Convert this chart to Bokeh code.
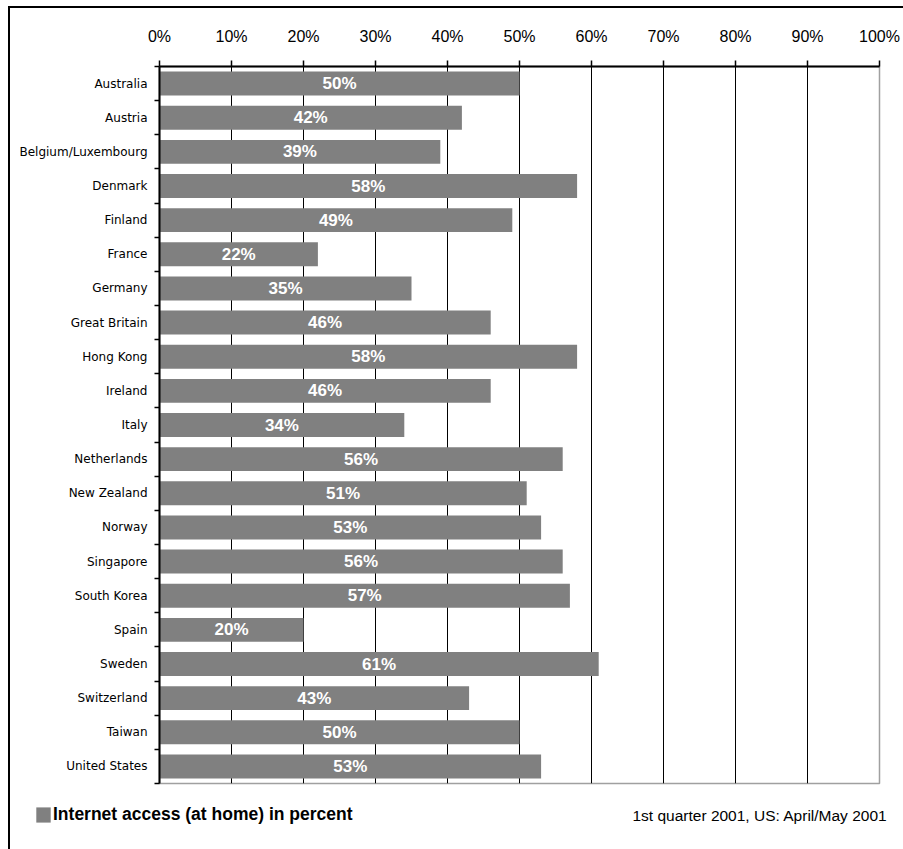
from bokeh.plotting import figure
from bokeh.layouts import column
from bokeh.models import (Range1d, FixedTicker, Legend, LegendItem, Label)
from bokeh.core.properties import value
from bokeh.embed import file_html
from bokeh.resources import INLINE

countries = ["Australia", "Austria", "Belgium/Luxembourg", "Denmark", "Finland",
             "France", "Germany", "Great Britain", "Hong Kong", "Ireland", "Italy",
             "Netherlands", "New Zealand", "Norway", "Singapore", "South Korea",
             "Spain", "Sweden", "Switzerland", "Taiwan", "United States"]
access_pct = [50, 42, 39, 58, 49, 22, 35, 46, 58, 46, 34, 56, 51, 53, 56, 57,
              20, 61, 43, 50, 53]
x_ticks = [0, 10, 20, 30, 40, 50, 60, 70, 80, 90, 100]
x_tick_labels = ["0%", "10%", "20%", "30%", "40%", "50%", "60%", "70%", "80%",
                 "90%", "100%"]
series_name = "Internet access (at home) in percent"
note_text = "1st quarter 2001, US: April/May 2001"

BAR_COLOR = "#808080"
W = 893

n = len(countries)
centers = [i + 0.5 for i in range(n)]
bounds = [float(i) for i in range(n + 1)]
bar_labels = [f"{v}%" for v in access_pct]
mids = [v / 2 for v in access_pct]

# ---- main chart ----
p = figure(width=W, height=782, output_backend="svg", toolbar_location=None,
           x_range=Range1d(0, 100), y_range=Range1d(n, 0),
           x_axis_location="above", min_border_left=149, min_border_right=24,
           min_border_top=58, min_border_bottom=7)
p.frame_align = False
p.background_fill_color = "white"
p.border_fill_color = "white"
p.outline_line_color = "#a0a0a0"
p.outline_line_width = 1.5

bars = p.hbar(y=centers, left=0, right=access_pct, height=0.7,
              fill_color=BAR_COLOR, line_color=None)
p.text(x=mids, y=centers, text=bar_labels, text_align="center",
       text_baseline="middle", text_color="white",
       text_font=value("Liberation Sans"), text_font_style="bold",
       text_font_size="17px")

xa = p.xaxis[0]
xa.ticker = FixedTicker(ticks=x_ticks, minor_ticks=[])
xa.major_label_overrides = {t: l for t, l in zip(x_ticks, x_tick_labels)}
xa.axis_line_width = 2
xa.axis_line_color = "black"
xa.major_tick_out = 6
xa.major_tick_in = 0
xa.major_tick_line_width = 1.5
xa.minor_tick_line_color = None
xa.major_label_standoff = 16
xa.major_label_text_font = "Liberation Sans"
xa.major_label_text_font_size = "16px"
xa.major_label_text_color = "black"

ya = p.yaxis[0]
ya.ticker = FixedTicker(ticks=centers, minor_ticks=bounds)
ya.major_label_overrides = {c: name for c, name in zip(centers, countries)}
ya.axis_line_width = 2
ya.axis_line_color = "black"
ya.major_tick_out = 0
ya.major_tick_in = 0
ya.minor_tick_out = 5
ya.minor_tick_in = 0
ya.minor_tick_line_width = 1.5
ya.minor_tick_line_color = "black"
ya.major_label_standoff = 7
ya.major_label_text_font = "DejaVu Sans"
ya.major_label_text_font_size = "12px"
ya.major_label_text_color = "black"

p.xgrid.ticker = FixedTicker(ticks=x_ticks[1:-1])
p.xgrid.grid_line_color = "black"
p.xgrid.grid_line_width = 1
p.ygrid.grid_line_color = None

# ---- footer with legend and note ----
f = figure(width=W, height=59, output_backend="svg", toolbar_location=None,
           x_range=Range1d(0, 1), y_range=Range1d(0, 1),
           min_border_left=0, min_border_right=0, min_border_top=0,
           min_border_bottom=0)
f.frame_align = False
f.axis.visible = False
f.grid.visible = False
f.outline_line_color = None
f.background_fill_color = "white"
f.border_fill_color = "white"
# legend-only swatch renderer, placed outside the visible range
swatch = f.hbar(y=[-5], left=[0], right=[1], height=0.5,
                fill_color=BAR_COLOR, line_color=None)

legend = Legend(items=[LegendItem(label=series_name, renderers=[swatch])],
                location=(24, 24), orientation="horizontal",
                border_line_color=None, background_fill_alpha=0,
                padding=0, margin=0, glyph_width=18, glyph_height=19,
                label_standoff=1, label_text_font="Liberation Sans",
                label_text_font_style="bold", label_text_font_size="17.5px",
                label_text_color="black", label_height=19)
f.add_layout(legend, "center")

note = Label(x=877, y=34, x_units="screen", y_units="screen", text=note_text,
             text_align="right", text_baseline="middle",
             text_font="Liberation Sans", text_font_size="15.5px",
             text_color="black")
f.add_layout(note)

layout = column(p, f, spacing=0,
                styles={"margin-left": "8px", "margin-top": "6px",
                        "border-left": "2px solid #000",
                        "border-top": "2px solid #000"})

open("out.html", "w").write(file_html(layout, INLINE))
